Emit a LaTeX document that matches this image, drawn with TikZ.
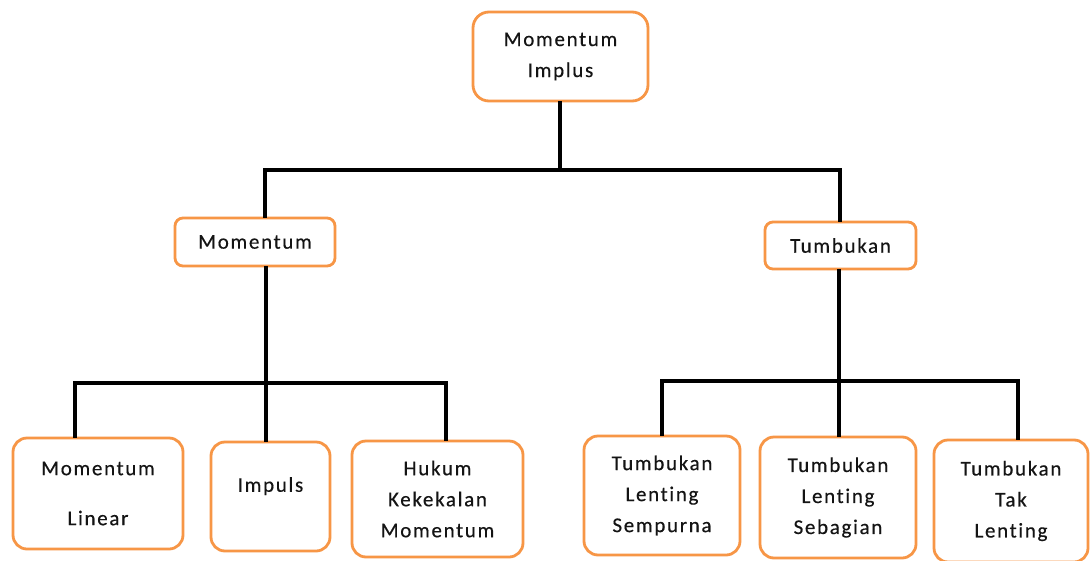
\documentclass[tikz,border=0pt]{standalone}
\usepackage{fontspec}
\setmainfont{Carlito}[LetterSpace=8, Ligatures={NoCommon}, FakeBold=0.4]
\definecolor{boxorange}{HTML}{F79646}
\definecolor{ink}{HTML}{141414}
\tikzset{
  box/.style={draw=boxorange, line width=2.8pt, fill=white, rounded corners=#1,
    align=center, text=ink, inner sep=0pt,
    font=\fontsize{21}{31}\selectfont},
  box/.default=12pt,
  wire/.style={draw=black, line width=3.2pt, line cap=rect},
}
\begin{document}
\begin{tikzpicture}[x=1pt,y=-1pt]
\useasboundingbox (0,0) rectangle (1090,560);
\fill[white] (0,0) rectangle (1090,560);

% root
\node[box=16pt, minimum width=175pt, minimum height=89pt] (top) at (560.5,56.5) {Momentum\\Implus};

% second level
\node[box=8pt, minimum width=160pt, minimum height=48pt] (mom) at (255,242) {Momentum};
\node[box=8pt, minimum width=151pt, minimum height=47pt] (tum) at (840.5,245.5) {Tumbukan};

% leaves under Momentum
\node[box=14pt, minimum width=170pt, minimum height=111pt] (ml) at (98,493.5) {Momentum\\[19pt]Linear};
\node[box=14pt, minimum width=119pt, minimum height=109pt] (imp) at (270.5,496.5) {Impuls\\[-7pt]\mbox{}};
\node[box=14pt, minimum width=171pt, minimum height=116pt] (hk) at (437.5,499) {Hukum\\Kekekalan\\Momentum};

% leaves under Tumbukan
\node[box=14pt, minimum width=156pt, minimum height=119pt] (ts) at (662,495.5) {Tumbukan\\Lenting\\Sempurna};
\node[box=14pt, minimum width=156pt, minimum height=121pt] (tsb) at (838,497.5) {Tumbukan\\Lenting\\Sebagian};
\node[box=14pt, minimum width=154pt, minimum height=122pt] (ttl) at (1011,501) {Tumbukan\\Tak\\Lenting};

% junction points
\coordinate (hub) at (560,170);
\coordinate (hubL) at (265,170);
\coordinate (hubR) at (840,170);
\coordinate (busL1) at (75,383);
\coordinate (busL2) at (266,383);
\coordinate (busL3) at (446,383);
\coordinate (busR1) at (662,381);
\coordinate (busR2) at (839,381);
\coordinate (busR3) at (1018,381);

% connectors
\draw[wire] (top.south -| hub) -- (hub);
\draw[wire] (hubL) -- (hubR);
\draw[wire] (hubL) -- (hubL |- mom.north);
\draw[wire] (hubR) -- (hubR |- tum.north);

\draw[wire] (mom.south -| busL2) -- (busL2);
\draw[wire] (busL1) -- (busL3);
\draw[wire] (busL1) -- (busL1 |- ml.north);
\draw[wire] (busL2) -- (busL2 |- imp.north);
\draw[wire] (busL3) -- (busL3 |- hk.north);

\draw[wire] (tum.south -| busR2) -- (busR2);
\draw[wire] (busR1) -- (busR3);
\draw[wire] (busR1) -- (busR1 |- ts.north);
\draw[wire] (busR2) -- (busR2 |- tsb.north);
\draw[wire] (busR3) -- (busR3 |- ttl.north);
\end{tikzpicture}
\end{document}
